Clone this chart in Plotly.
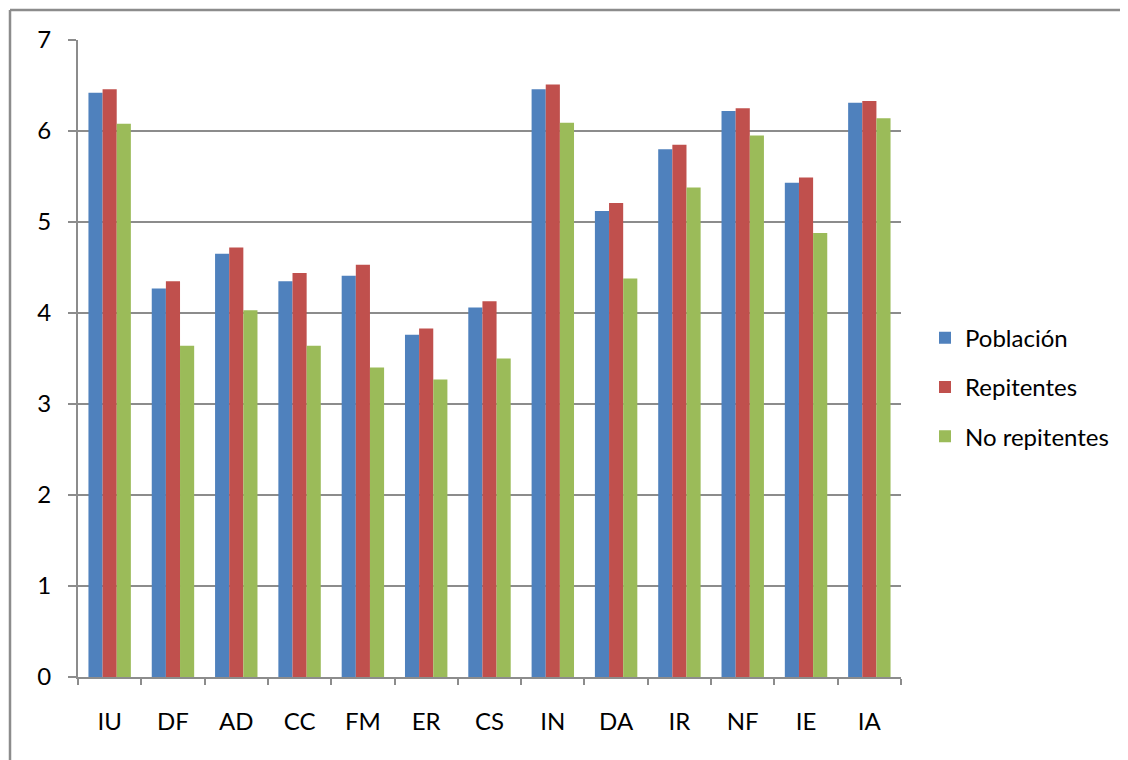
import plotly.graph_objects as go

categories = ["IU", "DF", "AD", "CC", "FM", "ER", "CS", "IN", "DA", "IR", "NF", "IE", "IA"]
poblacion = [6.42, 4.27, 4.65, 4.35, 4.41, 3.76, 4.06, 6.46, 5.12, 5.80, 6.22, 5.43, 6.31]
repitentes = [6.46, 4.35, 4.72, 4.44, 4.53, 3.83, 4.13, 6.51, 5.21, 5.85, 6.25, 5.49, 6.33]
no_repitentes = [6.08, 3.64, 4.03, 3.64, 3.40, 3.27, 3.50, 6.09, 4.38, 5.38, 5.95, 4.88, 6.14]

series = [
    ("Población", poblacion, "#4F81BD"),
    ("Repitentes", repitentes, "#C0504D"),
    ("No repitentes", no_repitentes, "#9BBB59"),
]

FONT = "Lato, 'Open Sans', sans-serif"
GRID = "#8C8C8C"
PW, PH = 823, 637

fig = go.Figure()
for i, (name, vals, color) in enumerate(series):
    fig.add_trace(go.Bar(
        x=categories, y=vals, name=name, legendgroup=f"g{i}",
        marker=dict(color=color, line=dict(width=0)),
    ))

fig.update_layout(
    width=1120, height=752,
    paper_bgcolor="white", plot_bgcolor="white",
    margin=dict(l=70, r=227, t=32, b=83),
    barmode="group", bargap=0.33, bargroupgap=0,
    font=dict(family=FONT, size=24, color="black"),
    showlegend=True,
    legend=dict(
        x=1 + 24 / PW, xanchor="left", xref="paper", y=0.455, yanchor="middle",
        font=dict(family=FONT, size=24, color="black"),
        tracegroupgap=15, itemwidth=30, bgcolor="rgba(0,0,0,0)",
    ),
    xaxis=dict(
        showline=True, linecolor=GRID, linewidth=2,
        ticks="outside", tickson="boundaries", ticklen=6, tickcolor=GRID, tickwidth=2,
        ticklabelstandoff=22,
        showgrid=False, zeroline=False,
        tickfont=dict(family=FONT, size=24, color="black"),
    ),
    yaxis=dict(
        range=[0, 7], dtick=1, tick0=0,
        showline=True, linecolor=GRID, linewidth=2,
        ticks="outside", ticklen=8, tickcolor=GRID, tickwidth=2,
        ticklabelstandoff=12,
        showgrid=True, gridcolor=GRID, gridwidth=2,
        zeroline=False,
        tickfont=dict(family=FONT, size=24, color="black"),
    ),
    shapes=[
        dict(type="line", xref="paper", yref="paper", x0=-68 / PW, x1=1128 / PW,
             y0=1 + 30 / PH, y1=1 + 30 / PH, line=dict(color=GRID, width=2.5)),
        dict(type="line", xref="paper", yref="paper", x0=-68 / PW, x1=-68 / PW,
             y0=1 + 30 / PH, y1=-90 / PH, line=dict(color=GRID, width=2.5)),
    ],
)

fig.write_html("out.html")
